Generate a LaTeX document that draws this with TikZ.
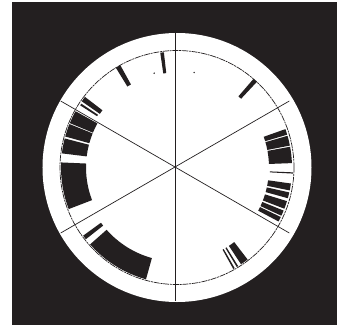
\documentclass[tikz,border=0pt]{standalone}
\definecolor{ink}{HTML}{231F20}
\newcommand{\arcbar}[4]{%
  \fill[ink] (#1:#3) arc[start angle=#1, end angle=#2, radius=#3]
    -- (#2:#4) arc[start angle=#2, end angle=#1, radius=#4] -- cycle;}
\begin{document}
\begin{tikzpicture}[x=1pt,y=1pt,
  spoke/.style={ink, line width=0.7pt},
  track/.style={ink, line width=0.7pt, dash pattern=on 6pt off 0.8pt on 2pt off 0.8pt}]
\useasboundingbox (-177,167.5) rectangle (160,-159.5);
% background
\fill[ink] (-165,165.5) rectangle (160,-157.5);
% white disc
\fill[white] (0,0) circle[radius=134.5];
% track circle
\draw[track] (0,0) circle[radius=117];
% spokes
\coordinate (c) at (-2,0.5);
\draw[spoke] (-2,134.5) -- (-2,-133);
\foreach \a in {30,150,210,330}{\draw[spoke] (c) -- ++(\a:132);}
% upper bars
\arcbar{96.5}{98.3}{95}{116}
\arcbar{119}{121.5}{95}{117}
\arcbar{142.5}{145.2}{94}{116}
\arcbar{146.3}{147.3}{95}{115}
\arcbar{47}{49.2}{94}{117}
% small specks
\fill[ink] (103.6:97) circle[radius=0.8];
\fill[ink] (79.8:96.5) circle[radius=0.8];
% right bars
\arcbar{16.6}{19.5}{92}{115}
\arcbar{11}{16}{92}{115}
\arcbar{2.2}{10.4}{92}{115}
\arcbar{-3.0}{-2.4}{93}{116}
\arcbar{-11.5}{-8}{92}{115}
\arcbar{-15.5}{-12.5}{92}{115}
\arcbar{-21}{-17}{92}{115}
\arcbar{-24.8}{-22}{92}{115}
\arcbar{-28}{-25.5}{92}{115}
% left bars
\arcbar{151}{157.5}{91}{116}
\arcbar{158}{164.5}{91}{116}
\arcbar{165.5}{173}{91}{116}
\arcbar{177.5}{201}{91}{116}
% lower-left bars
\arcbar{216}{218.2}{94}{116}
\arcbar{221.5}{254.5}{94}{116}
% lower-right bars
\arcbar{299}{299.8}{94}{116}
\arcbar{301}{301.8}{94}{116}
\arcbar{303.5}{307.5}{94}{116}
\end{tikzpicture}
\end{document}
